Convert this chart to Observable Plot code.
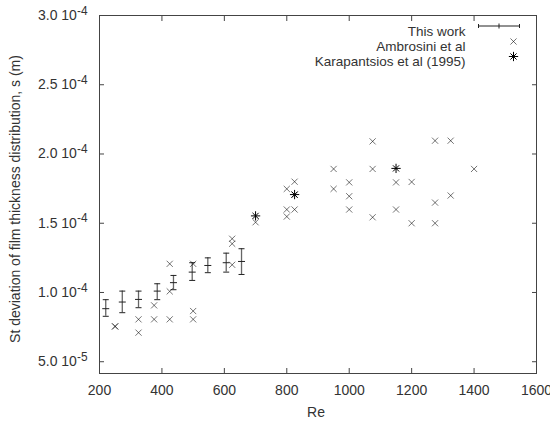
<!DOCTYPE html>
<html><head><meta charset="utf-8">
<script src="https://cdn.jsdelivr.net/npm/d3@7"></script>
<script src="https://cdn.jsdelivr.net/npm/@observablehq/plot@0.6"></script>
<style>body{margin:0;background:#fff} svg{display:block}</style>
</head><body><div id="chart"></div>
<script>
// This work (mean with error bars)
const thisWorkRe = [220, 273, 325, 385, 437, 497, 547, 606, 655];
const thisWorkS  = [8.83e-5, 9.31e-5, 9.5e-5, 1.01e-4, 1.071e-4, 1.147e-4, 1.195e-4, 1.215e-4, 1.224e-4];
const thisWorkLo = [8.28e-5, 8.54e-5, 8.9e-5, 9.48e-5, 1.02e-4, 1.087e-4, 1.143e-4, 1.147e-4, 1.13e-4];
const thisWorkHi = [9.48e-5, 1.01e-4, 1.01e-4, 1.063e-4, 1.123e-4, 1.215e-4, 1.25e-4, 1.284e-4, 1.316e-4];
// Ambrosini et al
const ambrosiniRe = [250, 250, 325, 325, 375, 375, 425, 425, 425, 500, 500, 500, 625, 625, 625, 700,
  800, 800, 800, 825, 825, 825, 950, 950, 1000, 1000, 1000, 1075, 1075, 1075, 1150, 1150,
  1200, 1200, 1275, 1275, 1275, 1325, 1325, 1400];
const ambrosiniS = [7.55e-5, 7.55e-5, 8.06e-5, 7.1e-5, 8.06e-5, 9.07e-5, 8.06e-5, 1.008e-4, 1.207e-4,
  8.06e-5, 8.66e-5, 1.207e-4, 1.2e-4, 1.352e-4, 1.388e-4, 1.507e-4,
  1.548e-4, 1.599e-4, 1.748e-4, 1.599e-4, 1.705e-4, 1.8e-4, 1.748e-4, 1.892e-4,
  1.599e-4, 1.695e-4, 1.795e-4, 1.543e-4, 1.892e-4, 2.091e-4, 1.599e-4, 1.795e-4,
  1.5e-4, 1.798e-4, 1.5e-4, 1.649e-4, 2.096e-4, 1.7e-4, 2.096e-4, 1.892e-4];
// Karapantsios et al (1995)
const karaRe = [700, 825, 1150];
const karaS  = [1.553e-4, 1.707e-4, 1.896e-4];

const xTicks = [200, 400, 600, 800, 1000, 1200, 1400, 1600];
const yTicks = [5e-5, 1e-4, 1.5e-4, 2e-4, 2.5e-4, 3e-4];
const legendLabels = ["This work", "Ambrosini et al", "Karapantsios et al (1995)"];
const xLabel = "Re";
const yLabel = "St deviation of film thickness distribution, s (m)";

const thisWork = thisWorkRe.map((re, i) => ({re, s: thisWorkS[i], lo: thisWorkLo[i], hi: thisWorkHi[i]}));
const ambrosini = ambrosiniRe.map((re, i) => ({re, s: ambrosiniS[i]}));
const kara = karaRe.map((re, i) => ({re, s: karaS[i]}));

const hline = {draw(ctx, size) { const r = Math.sqrt(size / Math.PI); ctx.moveTo(-r, 0); ctx.lineTo(r, 0); }};
const vline = {draw(ctx, size) { const r = Math.sqrt(size / Math.PI); ctx.moveTo(0, -r); ctx.lineTo(0, r); }};

const yFmt = d => {
  const e = Math.floor(Math.log10(d) + 1e-9);
  const m = d / Math.pow(10, e);
  return m.toFixed(1) + " 10|" + e;
};

const legendDy = [10.5, 26, 41];

const plot = Plot.plot({
  width: 550, height: 425,
  marginLeft: 99, marginRight: 14, marginTop: 15, marginBottom: 52,
  style: {fontFamily: "'Liberation Sans', Arial, sans-serif", fontSize: "14px", color: "#333", background: "#fff"},
  x: {domain: [200, 1600]},
  y: {domain: [4.15e-5, 3e-4]},
  marks: [
    Plot.axisX(xTicks, {anchor: "bottom", tickSize: 0, tickPadding: 12, tickFormat: d3.format("d"), label: null}),
    Plot.axisX(xTicks, {anchor: "bottom", tickSize: -5, tickFormat: () => "", label: null, stroke: "#444"}),
    Plot.axisX(xTicks, {anchor: "top", tickSize: -5, tickFormat: () => "", label: null, stroke: "#444"}),
    Plot.axisY(yTicks, {anchor: "left", tickSize: 0, tickPadding: 12, tickFormat: yFmt, label: null}),
    Plot.axisY(yTicks, {anchor: "left", tickSize: -5, tickFormat: () => "", label: null, stroke: "#444"}),
    Plot.axisY(yTicks, {anchor: "right", tickSize: -5, tickFormat: () => "", label: null, stroke: "#444"}),
    Plot.frame({stroke: "#444"}),
    Plot.text([xLabel], {text: d => d, frameAnchor: "bottom", textAnchor: "middle", dx: -2, dy: 43, fill: "#333"}),
    Plot.text([yLabel], {text: d => d, frameAnchor: "left", textAnchor: "middle", rotate: -90, dx: -83.5, dy: 4.5, fill: "#333"}),
    // This work error bars
    Plot.ruleX(thisWork, {x: "re", y1: "lo", y2: "hi", stroke: "#666", strokeWidth: 1.3}),
    Plot.dot(thisWork, {x: "re", y: "lo", symbol: hline, r: 3, stroke: "#222", strokeWidth: 1}),
    Plot.dot(thisWork, {x: "re", y: "hi", symbol: hline, r: 3, stroke: "#222", strokeWidth: 1}),
    Plot.dot(thisWork, {x: "re", y: "s", symbol: hline, r: 3.5, stroke: "#222", strokeWidth: 1}),
    // Ambrosini
    Plot.dot(ambrosini, {x: "re", y: "s", symbol: "times", r: 2.9, stroke: "#000", strokeOpacity: 0.55, strokeWidth: 1}),
    // Karapantsios
    Plot.dot(kara, {x: "re", y: "s", symbol: "times", r: 2.9, stroke: "#000", strokeWidth: 1}),
    Plot.dot(kara, {x: "re", y: "s", symbol: "plus", r: 3.1, stroke: "#000", strokeWidth: 1}),
    // Legend
    ...legendLabels.map((lab, i) =>
      Plot.text([lab], {text: d => d, frameAnchor: "top-right", textAnchor: "end", dx: -71, dy: legendDy[i], fill: "#333", fontSize: 13.5})),
    Plot.dot([0], {frameAnchor: "top-right", dx: -37.5, dy: legendDy[0], symbol: hline, r: 20.5, stroke: "#222", strokeWidth: 1}),
    Plot.dot([0], {frameAnchor: "top-right", dx: -58, dy: legendDy[0], symbol: vline, r: 2, stroke: "#222", strokeWidth: 1}),
    Plot.dot([0], {frameAnchor: "top-right", dx: -17, dy: legendDy[0], symbol: vline, r: 2, stroke: "#222", strokeWidth: 1}),
    Plot.dot([0], {frameAnchor: "top-right", dx: -37.5, dy: legendDy[0], symbol: vline, r: 2.5, stroke: "#222", strokeWidth: 1}),
    Plot.dot([0], {frameAnchor: "top-right", dx: -23, dy: legendDy[1], symbol: "times", r: 2.9, stroke: "#000", strokeOpacity: 0.55, strokeWidth: 1}),
    Plot.dot([0], {frameAnchor: "top-right", dx: -23, dy: legendDy[2], symbol: "times", r: 2.9, stroke: "#000", strokeWidth: 1}),
    Plot.dot([0], {frameAnchor: "top-right", dx: -23, dy: legendDy[2], symbol: "plus", r: 3.1, stroke: "#000", strokeWidth: 1})
  ]
});

// superscript exponents on y tick labels
plot.querySelectorAll('[aria-label="y-axis tick label"] text').forEach(t => {
  const parts = t.textContent.split("|");
  if (parts.length === 2) {
    t.textContent = parts[0];
    const ts = document.createElementNS("http://www.w3.org/2000/svg", "tspan");
    ts.setAttribute("dy", "-0.45em");
    ts.setAttribute("font-size", "0.85em");
    ts.textContent = parts[1];
    t.appendChild(ts);
  }
});

document.getElementById("chart").appendChild(plot);
</script>
</body></html>
